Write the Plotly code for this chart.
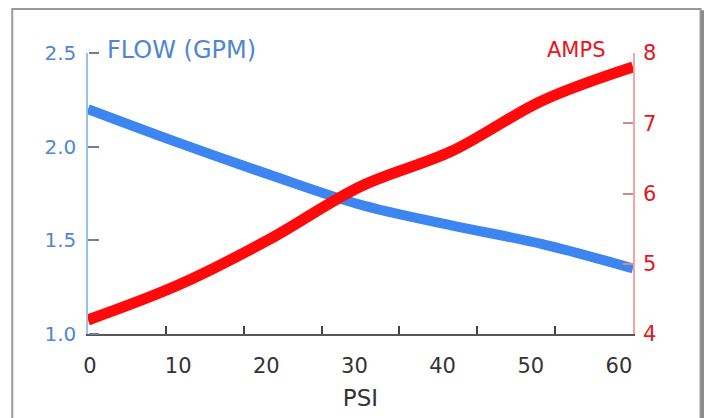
import plotly.graph_objects as go

psi = [0, 10, 20, 30, 40, 50, 60]
flow_gpm = [2.20, 2.02, 1.85, 1.69, 1.58, 1.48, 1.35]
amps = [4.20, 4.70, 5.35, 6.10, 6.60, 7.32, 7.80]

psi_labels = [0, 10, 20, 30, 40, 50, 60]
flow_ticks = [1.0, 1.5, 2.0, 2.5]
amp_ticks = [4, 5, 6, 7, 8]

BLUE_LINE = "#3d85f0"
BLUE_TEXT = "#4f86d6"
RED_LINE = "#ff0a0a"
RED_TEXT = "#e8141c"
FONT = "DejaVu Sans, Verdana, sans-serif"

fig = go.Figure()
fig.add_trace(go.Scatter(x=psi, y=flow_gpm, mode="lines",
                         line=dict(color=BLUE_LINE, width=10, shape="spline")))
fig.add_trace(go.Scatter(x=psi, y=amps, mode="lines", yaxis="y2",
                         line=dict(color=RED_LINE, width=11, shape="spline")))
# empty traces so the helper axes get drawn
fig.add_trace(go.Scatter(x=[], y=[], xaxis="x3", showlegend=False))
fig.add_trace(go.Scatter(x=[], y=[], yaxis="y3", showlegend=False))

# the original has 7 tick intervals under 6 labelled steps
n_marks = 7
mark_vals = [60 * i / n_marks for i in range(n_marks + 1)]

# page body has an 8px margin, so the figure is a bit smaller than the window
fig.update_layout(
    width=704, height=410,
    margin=dict(l=80, r=79, t=45, b=84),
    paper_bgcolor="white", plot_bgcolor="rgba(0,0,0,0)",
    showlegend=False,
    font=dict(family=FONT, size=21, color="#333333"),
    xaxis=dict(range=[0, 60], tickvals=mark_vals, showticklabels=False,
               ticks="inside", ticklen=8, tickcolor="#444444", tickwidth=1.5,
               showline=True, linecolor="#555555", linewidth=2,
               showgrid=False, zeroline=False, automargin=False),
    # label-only axis laid over the tick-mark axis
    xaxis3=dict(overlaying="x", anchor="y", range=[-0.23, 61.6],
                tickvals=psi_labels, ticks="", showline=False,
                showgrid=False, zeroline=False, automargin=False,
                ticklabelstandoff=17,
                tickfont=dict(size=21, color="#333333"),
                title=dict(text="PSI", font=dict(size=23, color="#333333"), standoff=12)),
    yaxis=dict(range=[1.0, 2.5], tickvals=flow_ticks, tickformat=".1f",
               ticks="inside", ticklen=10, tickcolor="#6a7fa8", tickwidth=1.5,
               showline=True, linecolor="#9cc0ec", linewidth=1.5,
               ticklabelstandoff=6,
               tickfont=dict(size=20, color=BLUE_TEXT),
               showgrid=False, zeroline=False, automargin=False),
    # tick marks for the flow axis, pointing into the plot from the left edge
    yaxis3=dict(range=[1.0, 2.5], tickvals=flow_ticks, overlaying="y", side="right",
                anchor="free", position=0, ticks="outside", ticklen=10,
                tickcolor="#6a7fa8", tickwidth=1.5, showticklabels=False,
                showline=False, showgrid=False, zeroline=False, automargin=False),
    yaxis2=dict(range=[4, 8], tickvals=amp_ticks, overlaying="y", side="right",
                ticks="inside", ticklen=10, tickcolor="#cf8a8a", tickwidth=1.5,
                showline=True, linecolor="#f4a4a4", linewidth=1.5,
                ticklabelstandoff=4,
                tickfont=dict(size=21, color=RED_TEXT),
                showgrid=False, zeroline=False, automargin=False),
)

fig.add_annotation(text="FLOW (GPM)", xref="paper", yref="paper", x=0.032, y=1.01,
                   xanchor="left", yanchor="middle", showarrow=False,
                   font=dict(size=24, color=BLUE_TEXT))
fig.add_annotation(text="AMPS", xref="paper", yref="paper", x=0.952, y=1.01,
                   xanchor="right", yanchor="middle", showarrow=False,
                   font=dict(size=21, color=RED_TEXT))

# frame around the chart
fig.add_shape(type="rect", xref="paper", yref="paper",
              x0=-0.139, x1=1.124, y0=-0.33, y1=1.157,
              line=dict(color="#9a9a9a", width=2), layer="below")
fig.add_shape(type="line", xref="paper", yref="paper",
              x0=1.128, x1=1.128, y0=-0.33, y1=1.152,
              line=dict(color="#8c8c8c", width=4))

fig.write_html("out.html")
